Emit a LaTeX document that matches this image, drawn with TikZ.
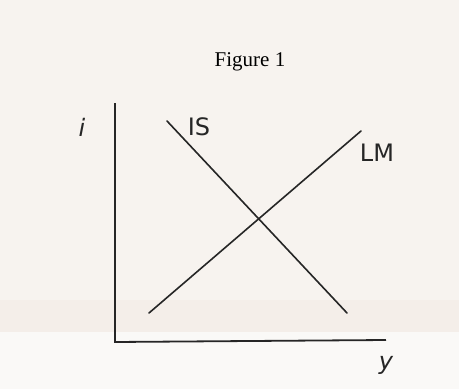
\documentclass[tikz,border=0pt]{standalone}
\usepackage{fontspec}
\setmainfont{Liberation Serif}
\newfontfamily\handfont{DejaVu Sans}
\begin{document}
\begin{tikzpicture}[x=1pt,y=-1pt,
  curve/.style={line width=1.6pt,color=black!85,line cap=round},
  axis/.style={line width=1.8pt,color=black!85},
  hand/.style={font=\handfont\fontsize{24}{24}\selectfont,color=black!85,inner sep=0pt}]
\useasboundingbox (0,0) rectangle (459,389);
\fill[color={rgb,255:red,247;green,243;blue,239}] (0,0) rectangle (459,389);
\fill[color={rgb,255:red,244;green,238;blue,233}] (0,300) rectangle (459,332);
\fill[color={rgb,255:red,250;green,249;blue,247}] (0,332) rectangle (459,389);
\node[font=\fontsize{21}{21}\selectfont] (title) at (250,62) {Figure 1};
\coordinate (top) at (115,103);
\coordinate (orig) at (115,342);
\coordinate (right) at (386,340);
\draw[axis] (top) -- (orig) -- (right);
\coordinate (is1) at (167,121);
\coordinate (is2) at (347,313);
\coordinate (lm1) at (149,313);
\coordinate (lm2) at (361,131);
\draw[curve] (is1) -- (is2);
\draw[curve] (lm1) -- (lm2);
\node[hand] (ilab) at (82,127) {\itshape i};
\node[hand] (islab) at (199,127) {IS};
\node[hand] (lmlab) at (377,153) {LM};
\node[hand] (ylab) at (386,365) {\itshape y};
\end{tikzpicture}
\end{document}
